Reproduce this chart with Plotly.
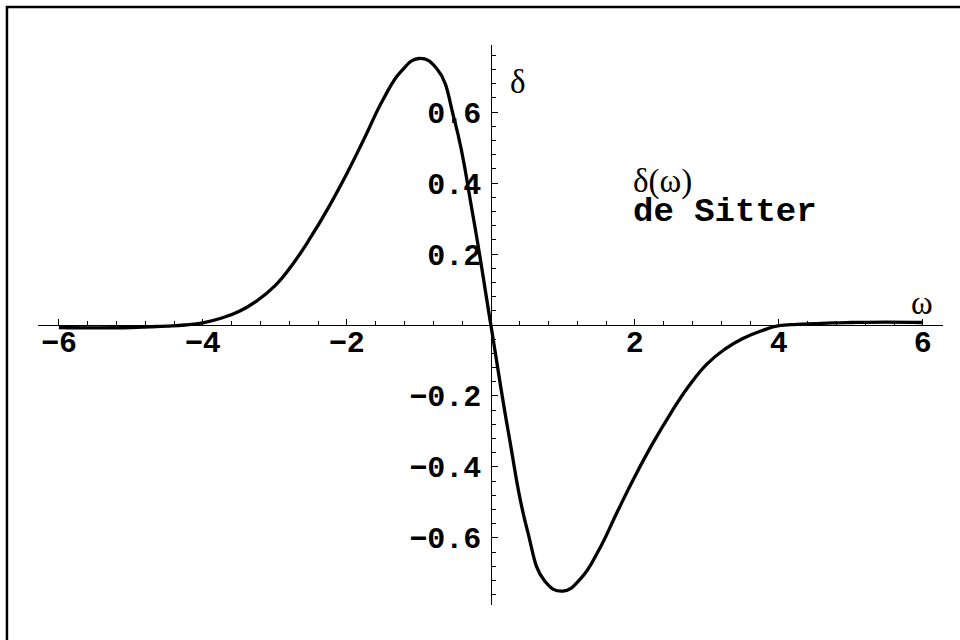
import plotly.graph_objects as go

# ---- data ----
omega = [-6.0, -5.5, -5.0, -4.75, -4.5, -4.25, -4.0, -3.75, -3.5, -3.25, -3.0,
         -2.75, -2.5, -2.25, -2.0, -1.75, -1.5, -1.25, -1.0, -0.75, -0.5, -0.25,
         0.0,
         0.25, 0.5, 0.75, 1.0, 1.25, 1.5, 1.75, 2.0, 2.25, 2.5, 2.75,
         3.0, 3.25, 3.5, 3.75, 4.0, 4.25, 4.5, 4.75, 5.0, 5.5, 6.0]
delta = [-0.007, -0.008, -0.007, -0.005, -0.003, 0.000, 0.006, 0.019, 0.038, 0.068, 0.110,
         0.172, 0.248, 0.333, 0.427, 0.529, 0.634, 0.714, 0.751, 0.722, 0.573, 0.310,
         0.000,
         -0.310, -0.573, -0.722, -0.750, -0.714, -0.634, -0.529, -0.427, -0.333, -0.248, -0.172,
         -0.110, -0.068, -0.038, -0.017, -0.002, 0.002, 0.004, 0.006, 0.007, 0.008, 0.007]

x_ticks = [-6, -4, -2, 2, 4, 6]
x_ticklabels = ["\u22126", "\u22124", "\u22122", "2", "4", "6"]
y_ticks = [-0.6, -0.4, -0.2, 0.2, 0.4, 0.6]
y_ticklabels = ["\u22120.6", "\u22120.4", "\u22120.2", "0.2", "0.4", "0.6"]

x_range = [-6.29, 6.28]
y_range = [-0.789, 0.789]

x_minor = [round(-6.0 + 0.4 * i, 2) for i in range(31)]
y_minor = [round(-0.76 + 0.04 * i, 2) for i in range(39)]

tickfont = dict(family="Liberation Mono", size=30, color="black", weight="bold")
serif = dict(family="Liberation Serif", size=33, color="black")

fig = go.Figure()
fig.add_trace(go.Scatter(x=omega, y=delta, mode="lines",
                         line=dict(color="black", width=3.3, shape="spline", smoothing=1.3),
                         hoverinfo="skip", showlegend=False))

fig.update_layout(
    width=960, height=640,
    margin=dict(l=38, r=17, t=45, b=35),
    plot_bgcolor="white", paper_bgcolor="white",
    showlegend=False,
    xaxis=dict(range=x_range, anchor="free", position=0.5,
               showline=True, linecolor="black", linewidth=1.3,
               showgrid=False, zeroline=False,
               tickmode="array", tickvals=x_ticks, ticktext=x_ticklabels,
               ticks="inside", ticklen=6, tickwidth=1.2, tickcolor="black",
               tickfont=tickfont, ticklabelstandoff=-10,
               minor=dict(tickmode="array", tickvals=x_minor, ticks="inside",
                          ticklen=4, tickwidth=1, tickcolor="black", showgrid=False)),
    yaxis=dict(range=y_range, anchor="free", position=0.5,
               showline=True, linecolor="black", linewidth=1.3,
               showgrid=False, zeroline=False,
               tickmode="array", tickvals=y_ticks, ticktext=y_ticklabels,
               ticks="inside", ticklen=6, tickwidth=1.2, tickcolor="black",
               tickfont=tickfont, ticklabelstandoff=3,
               minor=dict(tickmode="array", tickvals=y_minor, ticks="inside",
                          ticklen=4, tickwidth=1, tickcolor="black", showgrid=False)),
    shapes=[dict(type="rect", xref="paper", yref="paper",
                 x0=-0.0343, x1=1.2, y0=-0.3, y1=1.068,
                 line=dict(color="black", width=2.5), layer="above")],
    annotations=[
        dict(x=0.375, y=0.685, xref="x", yref="y", text="\u03b4", showarrow=False,
             font=serif, xanchor="center", yanchor="middle"),
        dict(x=5.99, y=0.062, xref="x", yref="y", text="\u03c9", showarrow=False,
             font=serif, xanchor="center", yanchor="middle"),
        dict(x=1.95, y=0.404, xref="x", yref="y", text="\u03b4(\u03c9)", showarrow=False,
             font=serif, xanchor="left", yanchor="middle"),
        dict(x=1.95, y=0.318, xref="x", yref="y", text="de Sitter", showarrow=False,
             font=dict(family="Liberation Mono", size=34, color="black", weight="bold"),
             xanchor="left", yanchor="middle"),
    ],
)

fig.write_html("out.html", config={"displayModeBar": False},
               post_script="document.body.style.margin='0';document.body.style.overflow='hidden';")
